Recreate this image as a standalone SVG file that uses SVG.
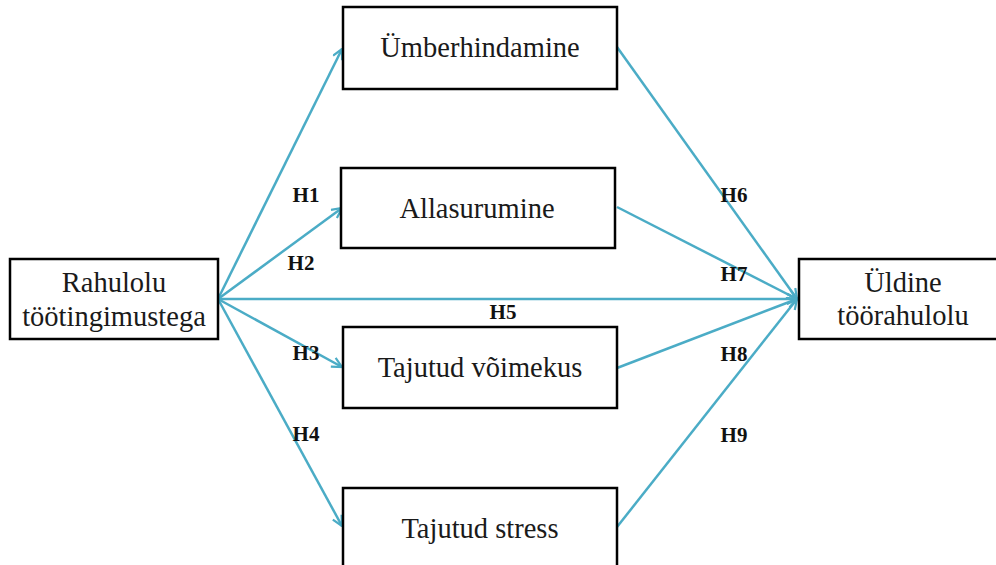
<svg xmlns="http://www.w3.org/2000/svg" width="996" height="565" viewBox="0 0 996 565">
<style>
.box{fill:#fff;stroke:#000;stroke-width:2.5}
.t{font-family:"Liberation Serif","Times New Roman",serif;font-size:28.5px;fill:#1a1a1a;text-anchor:middle}
.h{font-family:"Liberation Serif","Times New Roman",serif;font-size:21px;font-weight:bold;fill:#111;text-anchor:middle}
.c{stroke:#4BACC6;stroke-width:2.5;fill:none;marker-end:url(#arr)}
</style>
<defs>
<marker id="arr" viewBox="0 0 12 12" refX="11" refY="6" markerWidth="12" markerHeight="12" markerUnits="userSpaceOnUse" orient="auto">
<path d="M1,1 L11,6 L1,11" fill="none" stroke="#4BACC6" stroke-width="2.2"/>
</marker>
</defs>
<rect width="996" height="565" fill="#fff"/>
<g id="connectors">
<line class="c" x1="218" y1="299" x2="342" y2="49"/>
<line class="c" x1="218" y1="299" x2="342" y2="208"/>
<line class="c" x1="218" y1="299" x2="797" y2="299"/>
<line class="c" x1="218" y1="299" x2="342" y2="367"/>
<line class="c" x1="218" y1="299" x2="342" y2="526"/>
<line class="c" x1="617" y1="47" x2="797" y2="299"/>
<line class="c" x1="617" y1="207" x2="797" y2="299"/>
<line class="c" x1="617" y1="368" x2="797" y2="299"/>
<line class="c" x1="617" y1="527" x2="797" y2="299"/>
</g>
<g id="labels">
<text class="h" x="306" y="202">H1</text>
<text class="h" x="301" y="270">H2</text>
<text class="h" x="306" y="360">H3</text>
<text class="h" x="306" y="441">H4</text>
<text class="h" x="503" y="319">H5</text>
<text class="h" x="734" y="202">H6</text>
<text class="h" x="734" y="281">H7</text>
<text class="h" x="734" y="361">H8</text>
<text class="h" x="734" y="442">H9</text>
</g>
<g id="n-rahulolu">
<rect class="box" x="10" y="259" width="208" height="80"/>
<text class="t" x="114" y="292">Rahulolu</text>
<text class="t" x="114" y="326">töötingimustega</text>
</g>
<g id="n-umberhindamine">
<rect class="box" x="343" y="7" width="274" height="82"/>
<text class="t" x="480" y="57">Ümberhindamine</text>
</g>
<g id="n-allasurumine">
<rect class="box" x="341" y="168" width="274" height="80"/>
<text class="t" x="477" y="218">Allasurumine</text>
</g>
<g id="n-voimekus">
<rect class="box" x="343" y="327" width="274" height="81"/>
<text class="t" x="480" y="377">Tajutud võimekus</text>
</g>
<g id="n-stress">
<rect class="box" x="343" y="488" width="274" height="90"/>
<text class="t" x="480" y="538">Tajutud stress</text>
</g>
<g id="n-uldine">
<rect class="box" x="799" y="259" width="212" height="80"/>
<text class="t" x="903" y="292">Üldine</text>
<text class="t" x="903" y="325">töörahulolu</text>
</g>
</svg>
